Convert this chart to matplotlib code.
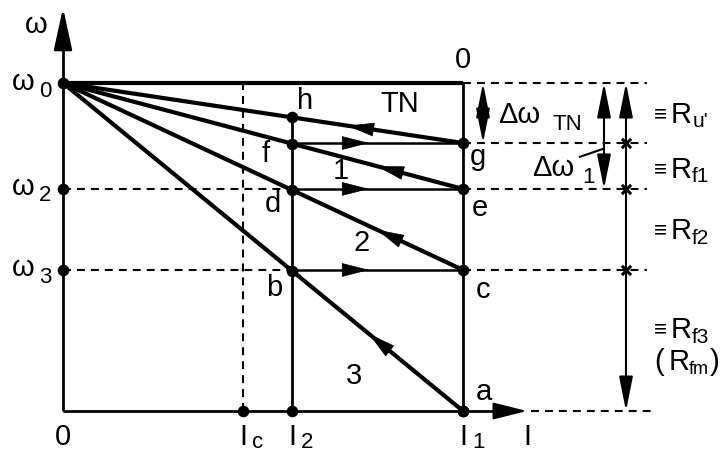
import matplotlib.pyplot as plt
import numpy as np

plt.rcParams["font.family"] = ["Liberation Sans", "DejaVu Sans"]

# currents (I1 = 1)
i_c = 0.45
i_2 = 0.5725
i_1 = 1.0

# speed levels (omega0 = 1)
w_0 = 1.0
w_g = 0.817
w_2 = 0.677
w_3 = 0.43

# end speed of each characteristic at I1: TN, 1, 2, 3
line_names = ["TN", "1", "2", "3"]
line_ends = [w_g, w_2, w_3, 0.0]
# speed levels at which the switch-over happens (horizontal steps)
step_levels = [w_g, w_2, w_3]

fig = plt.figure(figsize=(7.2, 4.53), dpi=100)
ax = fig.add_axes([0, 0, 1, 1])
ax.set_xlim(-0.1575, 1.6425)
ax.set_ylim(-0.128, 1.253)
ax.axis("off")

K = "black"
dash = (0, (3.8, 2.9))


def arrow_on(x0, y0, x1, y1, t, scale=14):
    # small filled arrow head sitting on a segment, pointing from (x0,y0) to (x1,y1)
    xa, ya = x0 + (x1 - x0) * t, y0 + (y1 - y0) * t
    xb, yb = x0 + (x1 - x0) * (t + 0.02), y0 + (y1 - y0) * (t + 0.02)
    ax.annotate("", xy=(xb, yb), xytext=(xa, ya),
                arrowprops=dict(arrowstyle="-|>,head_length=1.3,head_width=0.33",
                                color=K, lw=0.5, shrinkA=0, shrinkB=0,
                                mutation_scale=scale))


def slope_at(w_end, i):
    return w_0 - (w_0 - w_end) * i / i_1


# axes with arrows
ax.plot([0, 0], [0, 1.15], color=K, lw=2.0, solid_capstyle="butt")
ax.annotate("", xy=(0, 1.229), xytext=(0, 1.12),
            arrowprops=dict(arrowstyle="-|>,head_length=1.6,head_width=0.35",
                            color=K, lw=2.0, shrinkA=0, shrinkB=0, mutation_scale=16))
ax.plot([0, 1.1], [0, 0], color=K, lw=2.0, solid_capstyle="butt")
ax.annotate("", xy=(1.16, 0), xytext=(1.08, 0),
            arrowprops=dict(arrowstyle="-|>,head_length=1.4,head_width=0.35",
                            color=K, lw=1.5, shrinkA=0, shrinkB=0, mutation_scale=15))

# dashed helper lines
ax.plot([0, i_2], [w_2, w_2], color=K, lw=1.5, ls=dash)
ax.plot([0, i_2], [w_3, w_3], color=K, lw=1.5, ls=dash)
ax.plot([i_c, i_c], [0, w_0], color=K, lw=1.5, ls=dash)
for w in [w_0, w_g, w_2, w_3]:
    ax.plot([i_1, 1.46], [w, w], color=K, lw=1.5, ls=dash)
ax.plot([1.17, 1.48], [0, 0], color=K, lw=1.5, ls=dash)

# no-load line and vertical current lines
ax.plot([0, i_1], [w_0, w_0], color=K, lw=3.0, solid_capstyle="butt")
ax.plot([i_1, i_1], [0, w_0], color=K, lw=2.0)
ax.plot([i_2, i_2], [0, slope_at(w_g, i_2)], color=K, lw=2.0)

# speed characteristics from omega0
for w_end in line_ends:
    ax.plot([0, i_1], [w_0, w_end], color=K, lw=3.0, solid_capstyle="round")

# arrows along the characteristics (running back toward omega0)
for w_end, t in zip(line_ends, [0.27, 0.195, 0.195, 0.215]):
    arrow_on(i_1, w_end, 0, w_0, t)

# horizontal steps I2 -> I1
for w in step_levels:
    ax.plot([i_2, i_1], [w, w], color=K, lw=1.8)
    arrow_on(i_2, w, i_1, w, 0.43)

# dots
dots_x = [0, 0, 0, i_c, i_2, i_1]
dots_y = [w_0, w_2, w_3, 0, 0, 0]
for w_end in line_ends:
    dots_x += [i_2, i_1]
    dots_y += [slope_at(w_end, i_2), w_end]
ax.scatter(dots_x, dots_y, s=70, color=K, zorder=5, linewidths=0)

# right-hand dimension arrows
dim = dict(arrowstyle="<|-|>,head_length=1.4,head_width=0.28",
           color=K, lw=1.5, shrinkA=0, shrinkB=0, mutation_scale=15)
ax.annotate("", xy=(1.05, w_g), xytext=(1.05, w_0), arrowprops=dim)
ax.annotate("", xy=(1.3525, w_2), xytext=(1.3525, w_0), arrowprops=dim)
ax.annotate("", xy=(1.4075, 0), xytext=(1.4075, w_0), arrowprops=dim)
ax.scatter([1.4075] * 3, [w_g, w_2, w_3], marker="x", s=45, color=K,
           linewidths=2.2, zorder=5)
ax.plot([1.2925, 1.35], [0.775, 0.799], color=K, lw=1.5)

fs = 21
sub = 16


def label(x, y, s, size=fs, **kw):
    ax.text(x, y, s, fontsize=size, color=K, ha="center", va="center", **kw)


def px(x, y):
    return (x - 63) / 400, (411 - y) / 328


# axis labels
label(*px(36, 25), "ω")
label(*px(23, 82), "ω")
label(*px(45, 92), "0", sub)
label(*px(23, 187), "ω")
label(*px(45, 196), "2", sub)
label(*px(23, 268), "ω")
label(*px(45, 277), "3", sub)
label(*px(63, 437), "0")
label(*px(463, 60), "0")
label(*px(243, 437), "I")
label(*px(258, 442), "c", sub)
label(*px(292, 437), "I")
label(*px(307, 442), "2", sub)
label(*px(463, 437), "I")
label(*px(478, 442), "1", sub)
label(*px(527, 437), "I")

# point and line labels
label(*px(305, 101), "h")
label(*px(400, 104), "TN")
label(*px(266, 154), "f")
label(*px(478, 157), "g")
label(*px(341, 171), "1")
label(*px(273, 204), "d")
label(*px(480, 208), "e")
label(*px(362, 243), "2")
label(*px(274, 288), "b")
label(*px(483, 290), "c")
label(*px(354, 376), "3")
label(*px(484, 392), "a")

# dimension labels
label(*px(519, 115), "Δω")
label(*px(567, 125), "TN", sub)
label(*px(553, 168), "Δω")
label(*px(588, 178), "1", sub)
for yy, s in [(115, "u'"), (170, "f1"), (231, "f2"), (330, "f3")]:
    label(*px(660, yy), "≡", 16)
    label(*px(681, yy), "R")
    label(*px(696 + 4 * (len(s) - 1), yy + 7), s, sub - 1)
label(*px(659, 362), "(")
label(*px(679, 362), "R")
label(*px(699, 369), "fm", sub - 3)
label(*px(715, 362), ")")

fig.savefig("out.png", dpi=100)
